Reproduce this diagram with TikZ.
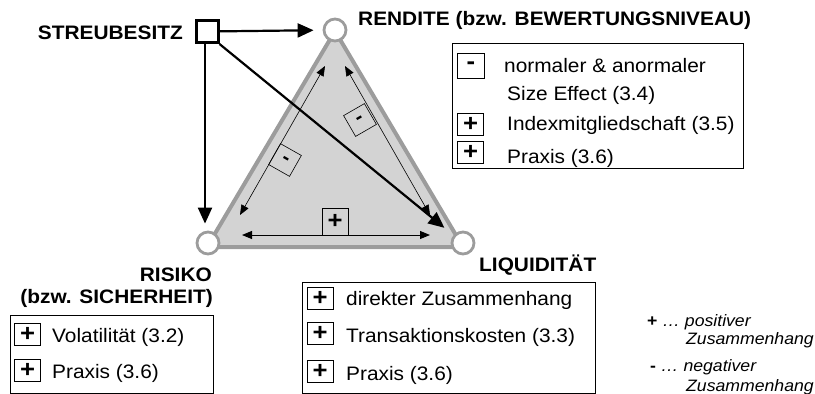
\documentclass[tikz,border=0pt]{standalone}
\usepackage{fontspec}
\setmainfont{Liberation Sans}[FakeStretch=1.07]
\usetikzlibrary{arrows.meta,calc}
\definecolor{edgegray}{HTML}{9C9C9C}
\definecolor{fillgray}{HTML}{D3D3D3}

\begin{document}
\begin{tikzpicture}[x=1pt, y=-1pt,
	corner/.style = {circle, draw=edgegray, line width=2.8pt, fill=white, minimum size=22pt, inner sep=0pt},
	sign/.style = {draw, line width=0.7pt, inner sep=0pt, minimum width=26pt, minimum height=22pt, font=\fontsize{24}{24}\selectfont\bfseries},
	tsign/.style = {draw, line width=0.6pt, inner sep=0pt, minimum size=24pt, font=\fontsize{20}{20}\selectfont\bfseries},
	txt/.style = {anchor=west, inner sep=0pt, font=\fontsize{19.5}{22}\selectfont},
	head/.style = {inner sep=0pt, font=\fontsize{19.5}{22}\selectfont\bfseries},
	legend/.style = {anchor=west, inner sep=0pt, font=\fontsize{16.5}{19}\selectfont\itshape},
	infobox/.style = {draw, line width=0.8pt, inner sep=0pt},
	big/.style = {line width=2.2pt, -{Triangle[length=16pt, width=14pt]}},
	small/.style = {line width=0.6pt, {Triangle[length=10pt, width=8pt]}-{Triangle[length=10pt, width=8pt]}}
	]
	\useasboundingbox (0,0) rectangle (815,394);

	% triangle
	\coordinate (tT) at (335,31);
	\coordinate (tL) at (207,247);
	\coordinate (tR) at (463,247);
	\filldraw[fill=fillgray, draw=edgegray, line width=4pt, line join=round] (tT) -- (tL) -- (tR) -- cycle;
	\node[corner] (ren) at (335,30) {};
	\node[corner] (ris) at (208,243) {};
	\node[corner] (liq) at (463,243) {};

	% relations inside the triangle
	\coordinate (lt) at (325,66);
	\coordinate (lb) at (240,215);
	\coordinate (rt) at (345,66);
	\coordinate (rb) at (430,215);
	\coordinate (bl) at (242,235);
	\coordinate (br) at (430,235);
	\draw[small] (lt) -- (lb);
	\draw[small] (rt) -- (rb);
	\draw[small, line width=1pt] (bl) -- (br);
	\node[tsign, rotate=-29.5] (mL) at (285,160) {-};
	\node[tsign, rotate=30] (mR) at (360,120) {-};
	\node[tsign, minimum width=26pt, minimum height=27pt, font=\fontsize{24}{24}\selectfont\bfseries] (pB) at (335,221.5) {+};

	% Streubesitz
	\node[draw, line width=3pt, minimum size=22pt, inner sep=0pt] (streu) at (207,31.5) {};
	\node[head, anchor=east] (streulbl) at (183,33) {STREUBESITZ};
	\draw[big, shorten >=9pt] (streu) -- (ren);
	\draw[big, shorten >=7pt] ([xshift=-2pt]streu.south) -- ([xshift=-2pt]streu.south |- ris.north);
	\draw[big, shorten >=24pt] (streu.south east) -- (liq.center);

	% labels of the corners
	\node[head, anchor=west] (renlbl) at (358,20) {RENDITE (bzw. BEWERTUNGSNIVEAU)};
	\node[head, anchor=west] (liqlbl) at (479,265) {LIQUIDITÄT};
	\node[head, anchor=east] (rislbl) at (212,275) {RISIKO};
	\node[head, anchor=east] (rislbl2) at (213,298) {(bzw. SICHERHEIT)};

	% box Rendite
	\node[infobox, minimum width=291pt, minimum height=125pt] (renbox) at (597.5,105.5) {};
	\node[sign, minimum width=27pt, minimum height=25pt] (r1) at (471,65.5) {-};
	\node[sign] (r2) at (470.5,124) {+};
	\node[sign] (r3) at (470.5,152.5) {+};
	\node[txt] (r1t) at (504,66) {normaler \& anormaler};
	\node[txt] (r1u) at (507,95) {Size Effect (3.4)};
	\node[txt] (r2t) at (507,125) {Indexmitgliedschaft (3.5)};
	\node[txt] (r3t) at (507,158) {Praxis (3.6)};

	% box Liquiditaet
	\node[infobox, minimum width=293pt, minimum height=111pt] (liqbox) at (448.5,337.5) {};
	\node[sign] (l1) at (320,298) {+};
	\node[sign] (l2) at (320,333) {+};
	\node[sign] (l3) at (320,371) {+};
	\node[txt] (l1t) at (346,300) {direkter Zusammenhang};
	\node[txt] (l2t) at (346,337) {Transaktionskosten (3.3)};
	\node[txt] (l3t) at (346,375) {Praxis (3.6)};

	% box Risiko
	\node[infobox, minimum width=203pt, minimum height=78pt] (risbox) at (111.5,354) {};
	\node[sign] (s1) at (27.5,334) {+};
	\node[sign] (s2) at (27.5,370) {+};
	\node[txt] (s1t) at (52,337) {Volatilität (3.2)};
	\node[txt] (s2t) at (52,373) {Praxis (3.6)};

	% legend
	\node[legend] (lg1) at (647,322) {{\upshape\bfseries +} \dots\ positiver};
	\node[legend] (lg1b) at (686,340) {Zusammenhang};
	\node[legend] (lg2) at (650,367) {{\upshape\bfseries -} \dots\ negativer};
	\node[legend] (lg2b) at (686,387) {Zusammenhang};
\end{tikzpicture}
\end{document}
